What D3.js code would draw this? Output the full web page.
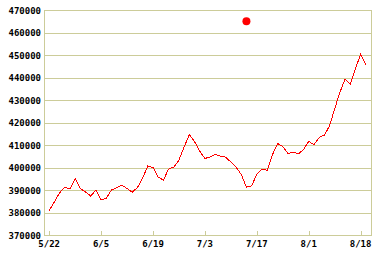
<!DOCTYPE html>
<html>
<head>
<meta charset="utf-8">
<script src="https://cdn.jsdelivr.net/npm/d3@7"></script>
<style>
  body { margin: 0; background: #fff; }
  svg text { font-family: "DejaVu Sans Mono", monospace; font-size: 9px; font-weight: bold; fill: #000; }
</style>
</head>
<body>
<div id="chart"></div>
<script>
// price series, one value per trading day
const values = [
    380800, 384700, 388700, 391300, 390400, 395100, 390700, 389100, 387300, 390000,
    385600, 386400, 390000, 391000, 392100, 390700, 389000, 391100, 395300, 400700,
    400000, 395800, 394400, 399300, 400200, 403300, 409100, 414700, 411500, 407300,
    404000, 404700, 405800, 405000, 404600, 402400, 400200, 396900, 391300, 391800,
    397100, 399300, 398700, 405600, 410700, 409300, 406200, 406900, 406000, 408000,
    411600, 410200, 413300, 414400, 418400, 426100, 433300, 439300, 437100, 443800,
    450400, 445800
];
const tickIndex = [0, 10, 20, 30, 40, 50, 60];
const tickLabels = ["5/22", "6/5", "6/19", "7/3", "7/17", "8/1", "8/18"];
const yTicks = [370000, 380000, 390000, 400000, 410000, 420000, 430000, 440000, 450000, 460000, 470000];
const marker = { index: 38, value: 465000 };

const W = 382, H = 258;
const plotLeft = 44, plotRight = 371, plotTop = 10, plotBottom = 235;
const gridColor = "#cccc99";

const svg = d3.select("#chart").append("svg")
    .attr("width", W)
    .attr("height", H);

const x = d3.scaleLinear().domain([-1, 62]).range([plotLeft, plotRight]);
const y = d3.scaleLinear().domain([370000, 470000]).range([plotBottom, plotTop]);

// horizontal grid lines
svg.selectAll(".grid")
    .data(yTicks)
    .enter()
    .append("line")
    .attr("x1", plotLeft)
    .attr("x2", plotRight)
    .attr("y1", d => Math.round(y(d)) + 0.5)
    .attr("y2", d => Math.round(y(d)) + 0.5)
    .attr("stroke", gridColor)
    .attr("stroke-width", 1);

// left and right frame
[plotLeft, plotRight].forEach(px => {
    svg.append("line")
        .attr("x1", px + 0.5).attr("x2", px + 0.5)
        .attr("y1", plotTop).attr("y2", plotBottom + 1)
        .attr("stroke", gridColor);
});

// y labels
svg.selectAll(".ylab")
    .data(yTicks)
    .enter()
    .append("text")
    .attr("x", plotLeft - 3)
    .attr("y", d => y(d) + 3.5)
    .style("text-anchor", "end")
    .text(d => d);

// x ticks and labels
svg.selectAll(".xtick")
    .data(tickIndex)
    .enter()
    .append("line")
    .attr("x1", d => Math.round(x(d)) + 0.5)
    .attr("x2", d => Math.round(x(d)) + 0.5)
    .attr("y1", plotBottom - 4)
    .attr("y2", plotBottom)
    .attr("stroke", gridColor);

svg.selectAll(".xlab")
    .data(tickIndex)
    .enter()
    .append("text")
    .attr("x", d => x(d))
    .attr("y", plotBottom + 12)
    .style("text-anchor", "middle")
    .text((d, i) => tickLabels[i]);

// price line
svg.append("path")
    .datum(values)
    .attr("fill", "none")
    .attr("stroke", "#ff0000")
    .attr("stroke-width", 1)
    .attr("shape-rendering", "crispEdges")
    .attr("d", d3.line()
        .x((d, i) => x(i))
        .y(d => y(d))
    );

// red marker
svg.append("circle")
    .attr("cx", x(marker.index))
    .attr("cy", y(marker.value))
    .attr("r", 4)
    .attr("fill", "#ff0000");
</script>
</body>
</html>
